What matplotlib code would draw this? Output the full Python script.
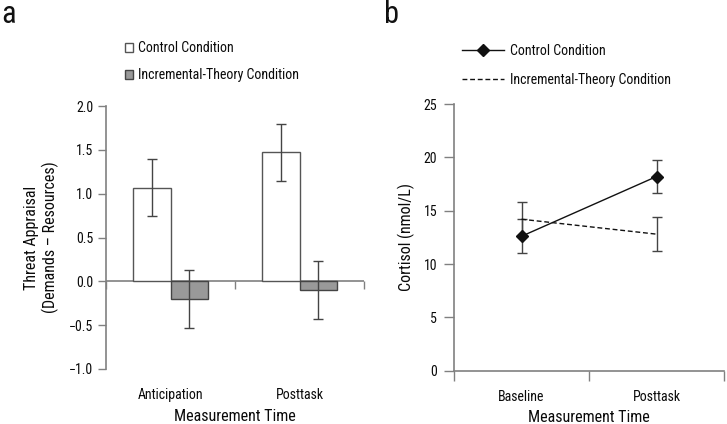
import matplotlib
matplotlib.use("Agg")
import matplotlib.pyplot as plt
from matplotlib.patches import Patch
from matplotlib.lines import Line2D
import numpy as np

plt.rcParams['font.family'] = ['Roboto Condensed', 'DejaVu Sans']

# Panel a data
threat_categories = ["Anticipation", "Posttask"]
threat_control = [1.07, 1.47]
threat_control_err = [0.33, 0.33]
threat_incremental = [-0.20, -0.10]
threat_incremental_err = [0.33, 0.33]
threat_yticks = [-1.0, -0.5, 0.0, 0.5, 1.0, 1.5, 2.0]

# Panel b data
cort_categories = ["Baseline", "Posttask"]
cort_control = [12.6, 18.2]
cort_control_err = [1.6, 1.57]
cort_incremental = [14.2, 12.8]
cort_incremental_err = [1.62, 1.57]
cort_yticks = [0, 5, 10, 15, 20, 25]

W, H = 727, 424
fig = plt.figure(figsize=(W / 100, H / 100), dpi=100)

spine_col = "#808080"
err_col = "#444444"
text_col = "#0a0a0a"
tick_fs = 10
label_fs = 11.5

def fx(px):
    return px / W

def fy(py):
    return 1 - py / H

# ---------------- Panel a ----------------
axa = fig.add_axes([fx(106), fy(369), fx(364) - fx(106), fy(106) - fy(369)])
x = np.arange(len(threat_categories))
bw = 0.29
axa.bar(x - bw / 2, threat_control, bw, color="white", edgecolor="#555555", linewidth=1.0, zorder=2)
axa.bar(x + bw / 2, threat_incremental, bw, color="#999999", edgecolor="#444444", linewidth=1.0, zorder=2)
axa.errorbar(x - bw / 2, threat_control, yerr=threat_control_err, fmt="none", ecolor=err_col,
             elinewidth=1.0, capsize=3.5, capthick=1.0, zorder=3)
axa.errorbar(x + bw / 2, threat_incremental, yerr=threat_incremental_err, fmt="none", ecolor=err_col,
             elinewidth=1.0, capsize=3.5, capthick=1.0, zorder=3)
axa.set_xlim(-0.5, 1.5)
axa.set_ylim(-1.0, 2.0)
axa.set_yticks(threat_yticks)
axa.set_yticklabels(["\u22121.0", "\u22120.5", "0.0", "0.5", "1.0", "1.5", "2.0"])
axa.set_xticks(x)
axa.set_xticklabels(threat_categories)
axa.tick_params(axis="x", length=0, pad=14, labelsize=tick_fs, colors=text_col)
axa.tick_params(axis="y", length=6, width=1, color=spine_col, pad=3, labelsize=tick_fs, labelcolor=text_col)
for s in ["top", "right", "bottom"]:
    axa.spines[s].set_visible(False)
axa.spines["left"].set_color(spine_col)
axa.spines["left"].set_linewidth(1.2)
axa.axhline(0, color=spine_col, linewidth=1.2, zorder=1)
sec = axa.secondary_xaxis(0, transform=axa.transData)
sec.set_xticks([-0.5, 0.5, 1.5])
sec.set_xticklabels([])
sec.tick_params(length=6, width=1, color=spine_col, direction="out")
sec.spines["bottom"].set_visible(False)
axa.set_ylabel("Threat Appraisal\n(Demands \u2013 Resources)", fontsize=label_fs, color=text_col,
               linespacing=1.2)
axa.yaxis.set_label_coords(-0.182, 0.5)
axa.set_xlabel("Measurement Time", fontsize=label_fs, color=text_col)
axa.xaxis.set_label_coords(0.5, -0.153)

leg_a = [Patch(facecolor="white", edgecolor="#555555", linewidth=1.0, label="Control Condition"),
         Patch(facecolor="#999999", edgecolor="#444444", linewidth=1.0, label="Incremental-Theory Condition")]
fig.legend(handles=leg_a, loc="upper left", bbox_to_anchor=(fx(125), fy(41)), bbox_transform=fig.transFigure,
           frameon=False, fontsize=tick_fs, handlelength=0.55, handleheight=0.6, handletextpad=0.4,
           labelspacing=0.95, borderpad=0, borderaxespad=0, labelcolor=text_col)

fig.text(fx(1), fy(0), "a", fontsize=22, va="top", ha="left", color="#111111")

# ---------------- Panel b ----------------
axb = fig.add_axes([fx(454), fy(370.7), fx(724) - fx(454), fy(104) - fy(370.7)])
xb = np.arange(len(cort_categories))
line_c, = axb.plot(xb, cort_control, color="#111111", linewidth=1.0, marker="D", markersize=6.5,
                   markerfacecolor="#111111", markeredgecolor="#111111", zorder=4)
line_i, = axb.plot(xb, cort_incremental, color="#111111", linewidth=1.0, linestyle=(0, (3.5, 2)), zorder=3)
axb.errorbar(xb, cort_control, yerr=cort_control_err, fmt="none", ecolor=err_col,
             elinewidth=1.0, capsize=3.5, capthick=1.0, zorder=2)
axb.errorbar(xb, cort_incremental, yerr=cort_incremental_err, fmt="none", ecolor=err_col,
             elinewidth=1.0, capsize=3.5, capthick=1.0, zorder=2)
axb.set_xlim(-0.5, 1.5)
axb.set_ylim(0, 25)
axb.set_yticks(cort_yticks)
axb.set_xticks(xb)
axb.set_xticklabels(cort_categories)
axb.set_xticks([-0.5, 0.5, 1.5], minor=True)
axb.tick_params(axis="x", which="major", length=0, pad=14, labelsize=tick_fs, colors=text_col)
axb.tick_params(axis="x", which="minor", length=7, width=1, color=spine_col)
axb.tick_params(axis="y", length=7, width=1, color=spine_col, pad=5, labelsize=tick_fs, labelcolor=text_col)
for s in ["top", "right"]:
    axb.spines[s].set_visible(False)
for s in ["left", "bottom"]:
    axb.spines[s].set_color(spine_col)
    axb.spines[s].set_linewidth(1.2)
axb.set_ylabel("Cortisol (nmol/L)", fontsize=label_fs, color=text_col)
axb.yaxis.set_label_coords(-0.145, 0.5)
axb.set_xlabel("Measurement Time", fontsize=label_fs, color=text_col)
axb.xaxis.set_label_coords(0.5, -0.148)

leg_b = [Line2D([], [], color="#111111", linewidth=1.0, marker="D", markersize=6.5, label="Control Condition"),
         Line2D([], [], color="#111111", linewidth=1.0, linestyle=(0, (3.5, 2)), label="Incremental-Theory Condition")]
fig.legend(handles=leg_b, loc="upper left", bbox_to_anchor=(fx(462), fy(44)), bbox_transform=fig.transFigure,
           frameon=False, fontsize=tick_fs, handlelength=3.0, handletextpad=0.45,
           labelspacing=1.05, borderpad=0, borderaxespad=0, labelcolor=text_col)

fig.text(fx(384), fy(0), "b", fontsize=22, va="top", ha="left", color="#111111")

fig.savefig("out.png", dpi=100)
